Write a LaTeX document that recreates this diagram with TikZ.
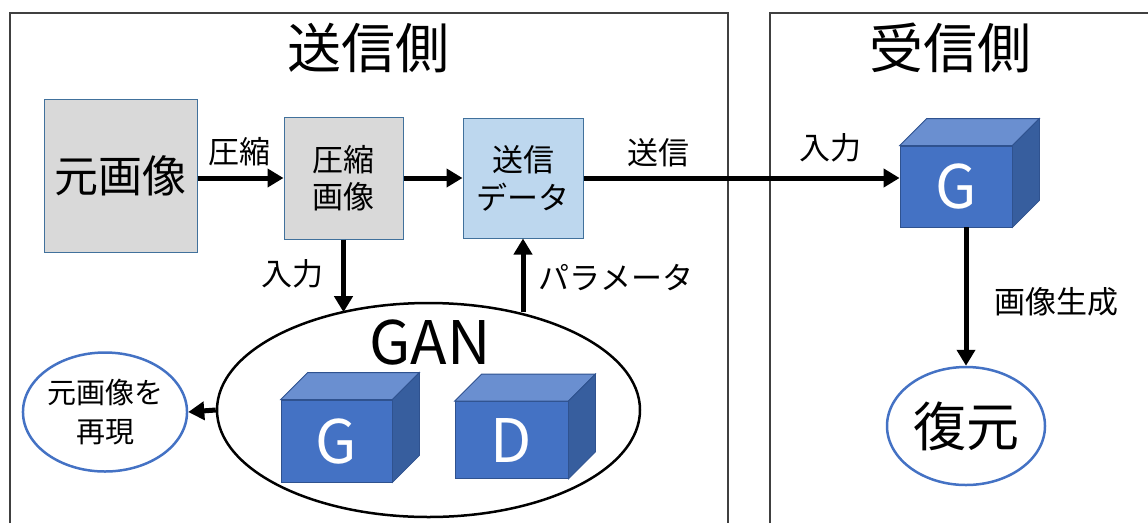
\documentclass[tikz,border=0pt]{standalone}
\usepackage{fontspec}
\setmainfont{Noto Sans CJK JP}
\usetikzlibrary{arrows.meta,shapes.geometric}
\definecolor{boxgray}{HTML}{D9D9D9}
\definecolor{boxblue}{HTML}{BDD7EE}
\definecolor{edgeblue}{HTML}{41719C}
\definecolor{cfront}{HTML}{4472C4}
\definecolor{ctop}{HTML}{6A8FD0}
\definecolor{cside}{HTML}{375E9E}
\definecolor{cedge}{HTML}{2F528F}
\definecolor{frameg}{HTML}{404040}
\newcommand\cubebox[6]{%
  \node[cubeface,minimum width=#4,minimum height=#5] (#1) at (#2,#3) {#6};
  \filldraw[cubetopstyle] (#1.north west) -- ++(27,-27) -- ([shift={(27,-27)}]#1.north east) -- (#1.north east) -- cycle;
  \filldraw[cubesidestyle] (#1.north east) -- ([shift={(27,-27)}]#1.north east) -- ([shift={(27,-27)}]#1.south east) -- (#1.south east) -- cycle;
}
\begin{document}
\begin{tikzpicture}[x=1pt,y=-1pt,
  frameline/.style={draw=frameg,line width=1.3pt},
  arr/.style={line width=5pt,-{Triangle[length=16pt,width=18pt]}},
  imgbox/.style={draw=edgeblue,line width=1pt,inner sep=0,align=center},
  cubeface/.style={draw=cedge,line width=0.8pt,fill=cfront,text=white,inner sep=0,font=\fontsize{60}{60}\selectfont},
  cubetopstyle/.style={fill=ctop,draw=cedge,line width=0.8pt},
  cubesidestyle/.style={fill=cside,draw=cedge,line width=0.8pt},
  oval/.style={ellipse,draw=cfront,line width=2.5pt,inner sep=0,align=center},
  lbl/.style={font=\fontsize{31}{31}\selectfont,inner sep=0},
]
\useasboundingbox (0,0) rectangle (1148,523);
% frames
\draw[frameline] (10,523) -- (10,13) -- (728,13) -- (728,523);
\draw[frameline] (770,523) -- (770,13) -- (1148,13);
\node[font=\fontsize{54}{54}\selectfont,inner sep=0] (ttl1) at (368,48) {送信側};
\node[font=\fontsize{54}{54}\selectfont,inner sep=0] (ttl2) at (950,48) {受信側};

% boxes
\node[imgbox,fill=boxgray,minimum width=153pt,minimum height=153pt,font=\fontsize{44}{44}\selectfont] (orig) at (120.5,175.5) {元画像};
\node[imgbox,fill=boxgray,minimum width=119pt,minimum height=122pt,font=\fontsize{31}{37}\selectfont] (zip) at (343.5,178) {圧縮\\画像};
\node[imgbox,fill=boxblue,minimum width=120pt,minimum height=120pt,font=\fontsize{31}{38}\selectfont] (data) at (523,178) {送信\\データ};

% GAN
\node[ellipse,draw,line width=2.5pt,minimum width=423pt,minimum height=214pt,inner sep=0] (gan) at (428.5,410) {};
\node[font=\fontsize{60}{60}\selectfont,inner sep=0] (gantxt) at (430,343) {GAN};
\cubebox{g1}{336.5}{441}{111pt}{82pt}{G}
\cubebox{d1}{511.5}{440}{113pt}{77pt}{D}

% receiver
\cubebox{gr}{956}{186.5}{112pt}{81pt}{G}
\node[oval,minimum width=158pt,minimum height=118pt,font=\fontsize{53}{53}\selectfont] (fuku) at (966,426) {復元};
\node[oval,minimum width=158pt,minimum height=119pt,font=\fontsize{29}{39}\selectfont] (repro) at (105,412) {元画像を\\再現};

% connectors
\draw[arr] (orig.east |- zip.west) -- (zip.west);
\draw[arr] (zip.east) -- (data.west);
\draw[arr] (data.east) -- (data.east -| gr.west);
\draw[arr] (zip.south) -- (zip.south |- gan.133);
\draw[arr] (gan.47 -| data.south) -- (data.south);
\draw[arr] (gan.west) -- (repro.east);
\draw[arr] (fuku.north |- gr.south) -- (fuku.north);

% labels
\node[lbl] (l1) at (239,152) {圧縮};
\node[lbl] (l2) at (658,153) {送信};
\node[lbl] (l3) at (830,148) {入力};
\node[lbl] (l4) at (292,274) {入力};
\node[lbl] (l5) at (616,278) {パラメータ};
\node[lbl] (l6) at (1056,302) {画像生成};
\end{tikzpicture}
\end{document}
